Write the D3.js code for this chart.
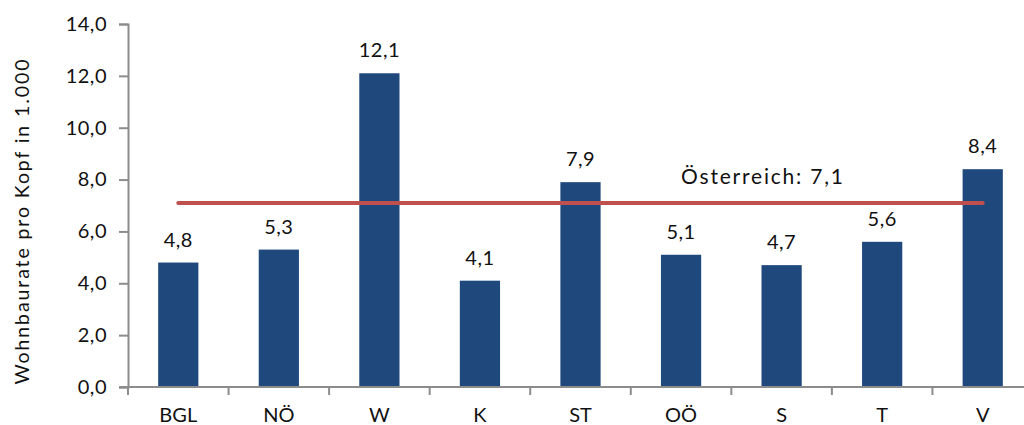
<!DOCTYPE html>
<html>
<head>
<meta charset="utf-8">
<script src="https://cdn.jsdelivr.net/npm/d3@7"></script>
<style>
  html, body { margin: 0; padding: 0; background: #fff; }
  svg text { font-family: Lato, "DejaVu Sans", sans-serif; fill: #111; }
</style>
</head>
<body>
<svg id="chart" width="1024" height="425"></svg>
<script>
// Wohnbaurate pro Kopf nach Bundesland
const regions = ["BGL", "NÖ", "W", "K", "ST", "OÖ", "S", "T", "V"];
const rates = [4.8, 5.3, 12.1, 4.1, 7.9, 5.1, 4.7, 5.6, 8.4];
const austriaRate = 7.1;
const austriaLabel = "Österreich: 7,1";
const yTicks = [0, 2, 4, 6, 8, 10, 12, 14];
const yTitle = "Wohnbaurate pro Kopf in 1.000";

const fmt = v => v.toFixed(1).replace(".", ",");

const svg = d3.select("#chart");
const plotLeft = 128, plotRight = 1033, plotTop = 24, plotBottom = 387;

const x = d3.scaleBand().domain(regions).range([plotLeft, plotRight]);
const y = d3.scaleLinear().domain([0, 14]).range([plotBottom, plotTop]);
const barW = x.step() * 0.4;
const axisColor = "#8c8c8c";

// y axis
const yAxis = svg.append("g")
  .attr("transform", `translate(${plotLeft},0)`)
  .call(d3.axisLeft(y).tickValues(yTicks).tickFormat(fmt).tickSize(9).tickPadding(12));
yAxis.select(".domain").attr("stroke", axisColor).attr("stroke-width", 2);
yAxis.selectAll(".tick line").attr("stroke", axisColor).attr("stroke-width", 2);
yAxis.selectAll(".tick text").style("font-size", "20px").attr("fill", "#111")
  .style("letter-spacing", "0.5px");

// bars
svg.append("g").selectAll("rect")
  .data(regions)
  .join("rect")
  .attr("x", (d) => x(d) + (x.bandwidth() - barW) / 2)
  .attr("width", barW)
  .attr("y", (d, i) => y(rates[i]))
  .attr("height", (d, i) => y(0) - y(rates[i]))
  .attr("fill", "#1f497d");

// x axis with boundary ticks between categories
const xAxisG = svg.append("g").attr("transform", `translate(0,${plotBottom})`);
xAxisG.append("line")
  .attr("x1", plotLeft - 9).attr("x2", plotRight)
  .attr("stroke", axisColor).attr("stroke-width", 2);
xAxisG.selectAll("line.tick")
  .data(regions)
  .join("line")
  .attr("class", "tick")
  .attr("x1", d => x(d)).attr("x2", d => x(d))
  .attr("y1", 0).attr("y2", 8)
  .attr("stroke", axisColor).attr("stroke-width", 2);
xAxisG.selectAll("text")
  .data(regions)
  .join("text")
  .attr("x", d => x(d) + x.bandwidth() / 2)
  .attr("y", 35)
  .attr("text-anchor", "middle")
  .style("font-size", "20px")
  .text(d => d);

// value labels
svg.append("g").selectAll("text")
  .data(regions)
  .join("text")
  .attr("x", d => x(d) + x.bandwidth() / 2)
  .attr("y", (d, i) => y(rates[i]) - 16)
  .attr("text-anchor", "middle")
  .style("font-size", "20px")
  .style("letter-spacing", "0.5px")
  .text((d, i) => fmt(rates[i]));

// Austrian average
const xFirst = x(regions[0]) + x.bandwidth() / 2;
const xLast = x(regions[regions.length - 1]) + x.bandwidth() / 2;
svg.append("line")
  .attr("x1", xFirst).attr("x2", xLast)
  .attr("y1", y(austriaRate)).attr("y2", y(austriaRate))
  .attr("stroke", "#c0504d").attr("stroke-width", 4)
  .attr("stroke-linecap", "round");
svg.append("text")
  .attr("x", x("OÖ") + x.bandwidth() / 2)
  .attr("y", y(austriaRate) - 19)
  .style("font-size", "21px")
  .style("letter-spacing", "1.8px")
  .text(austriaLabel);

// y axis title
svg.append("text")
  .attr("transform", `translate(29,221) rotate(-90)`)
  .attr("text-anchor", "middle")
  .style("font-size", "19.5px")
  .style("letter-spacing", "1.9px")
  .text(yTitle);
</script>
</body>
</html>
